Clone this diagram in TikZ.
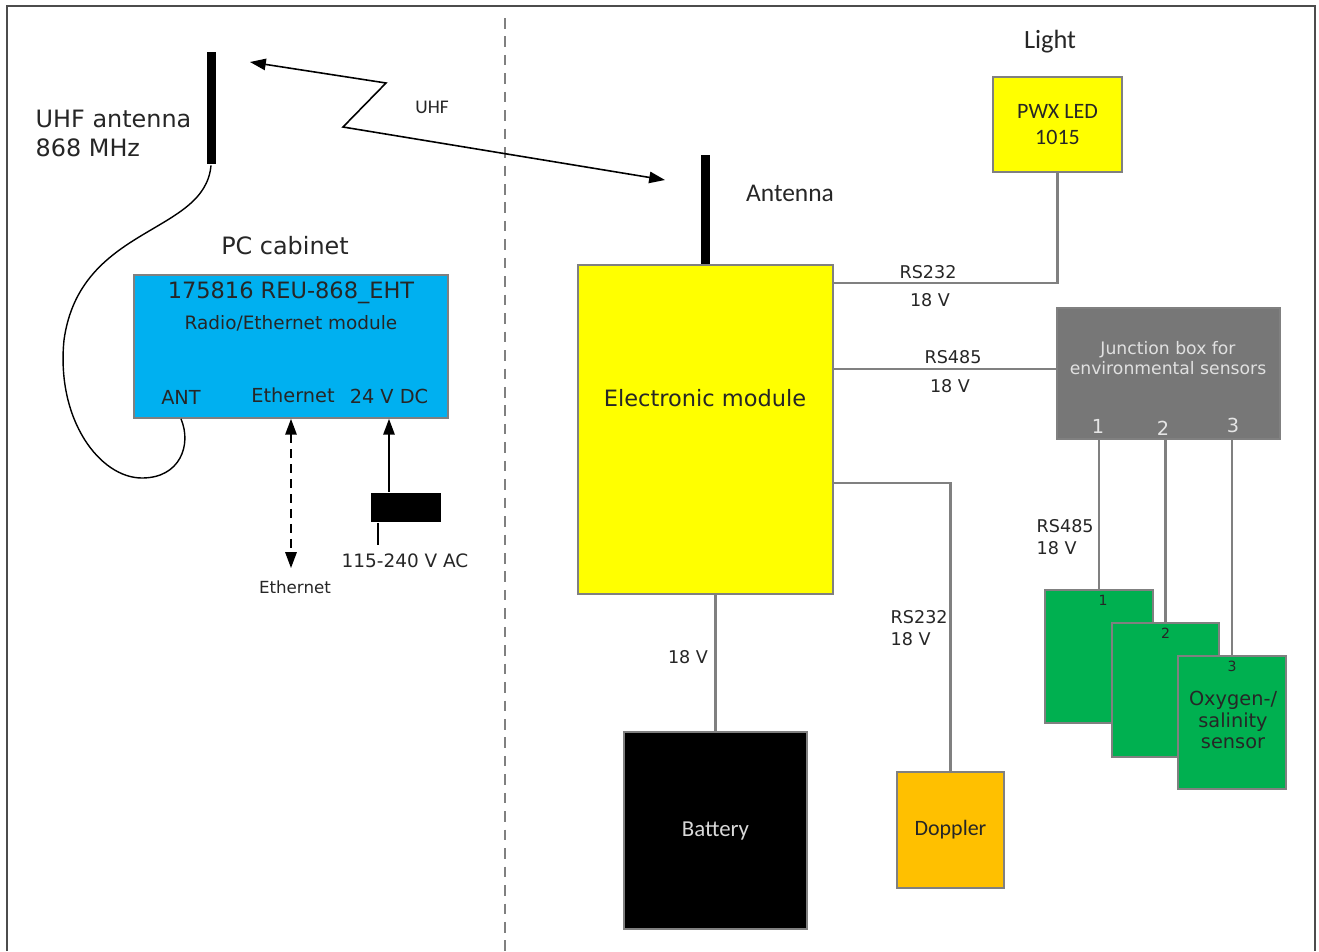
\documentclass[tikz,border=0pt]{standalone}
\usepackage{fontspec}
\setmainfont{DejaVu Sans}
\newfontfamily\calfont{Carlito}
\usetikzlibrary{arrows.meta, positioning}
\definecolor{cblue}{HTML}{00B0F0}
\definecolor{cyellow}{HTML}{FFFF00}
\definecolor{cgold}{HTML}{FFC000}
\definecolor{cgreen}{HTML}{00B050}
\definecolor{cjunc}{HTML}{777777}
\definecolor{cgrey}{HTML}{808080}
\definecolor{ctext}{HTML}{262626}
\tikzset{
  every picture/.style={line width=1pt, text=ctext},
  box/.style={draw=cgrey, fill=#1, line width=1pt, inner sep=0pt, align=center},
  box/.default=white,
  mast/.style={fill=black, minimum width=0.18cm, minimum height=2.26cm, inner sep=0pt},
  wire/.style={draw=cgrey, line width=1.2pt},
  cable/.style={draw=black, line width=0.8pt},
  arrow/.style={-{Triangle[length=9pt, width=6.5pt]}, draw=black, line width=0.9pt},
  frame/.style={draw=black!70, line width=1pt},
  divider/.style={draw=cgrey, line width=1.2pt, dash pattern=on 6pt off 4.5pt},
  bigtext/.style={font=\fontsize{13.6}{16.5}\selectfont, align=left},
  midtext/.style={font=\fontsize{12.8}{15}\selectfont},
  labtext/.style={font=\fontsize{11}{13}\selectfont},
  smalltext/.style={font=\fontsize{10}{12.2}\selectfont, align=left},
  caltext/.style={font=\calfont\fontsize{#1}{15.3}\selectfont, align=center},
  caltext/.default=13,
  numtext/.style={font=\fontsize{8}{9}\selectfont, inner sep=3pt},
}

\begin{document}
\begin{tikzpicture}[x=0.02cm, y=-0.02cm]
  \useasboundingbox (0,0) rectangle (1319,951);
  \draw[frame] (7,951) -- (7,6) -- (1315,6) -- (1315,951);
  \draw[divider] (505,18) -- (505,951);

  % left side: PC cabinet
  \node[mast] (uhfant) at (211,108) {};
  \node[bigtext, anchor=west] (uhflbl) at (29,133) {UHF antenna\\868 MHz};
  \node[bigtext] (cablbl) at (285,246) {PC cabinet};
  \node[box=cblue, minimum width=6.28cm, minimum height=2.86cm] (pc) at (291,346.5) {};
  \node[midtext] (pcname) at (291,293) {175816 REU-868\_EHT};
  \node[smalltext, font=\fontsize{10.5}{12}\selectfont] (pctype) at (291,323) {Radio/Ethernet module};
  \node[labtext] (antport) at (181,397) {ANT};
  \node[labtext] (ethport) at (293,395) {Ethernet};
  \node[labtext] (dcport) at (389,396) {24 V DC};
  \draw[cable] (uhfant.south) .. controls (205,235) and (80,225) .. (64,340)
    .. controls (56,420) and (100,478) .. (142,478)
    .. controls (180,478) and (192,445) .. (antport |- pc.south);
  % ethernet and power
  \coordinate (ethend) at (291,568);
  \node[smalltext, font=\fontsize{9.5}{11}\selectfont] (ethlbl) at (295,587) {Ethernet};
  \draw[arrow, {Triangle[length=9pt, width=6.5pt]}-{Triangle[length=9pt, width=6.5pt]}, dash pattern=on 5pt off 3.5pt] (pc.south) -- (ethend);
  \node[fill=black, minimum width=1.4cm, minimum height=0.58cm, inner sep=0pt] (plug) at (406,507.5) {};
  \draw[arrow] (plug.north -| dcport) -- (dcport |- pc.south);
  \coordinate (plugend) at (378,545);
  \draw[cable, line width=1.2pt] (plug.south -| plugend) -- (plugend);
  \node[labtext, font=\fontsize{10.5}{12}\selectfont] (aclbl) at (405,561) {115-240 V AC};

  % radio link
  \coordinate (uhfa) at (250,62);
  \coordinate (uhfb) at (386,83);
  \coordinate (uhfc) at (343,127);
  \coordinate (uhfd) at (665,180);
  \draw[arrow, {Triangle[length=9pt, width=6.5pt]}-{Triangle[length=9pt, width=6.5pt]}, line join=miter] (uhfa) -- (uhfb) -- (uhfc) -- (uhfd);
  \node[caltext=11] (uhflink) at (432,107) {UHF};

  % right side: buoy
  \node[mast] (buoyant) at (705.5,211.5) {};
  \node[caltext=14.5] (antlbl) at (790,193) {Antenna};
  \node[box=cyellow, minimum width=5.1cm, minimum height=6.58cm] (emod) at (705.5,429.5) {};
  \node[midtext] (emodlbl) at (705,398) {Electronic module};

  \node[caltext=15] (lightlbl) at (1050,42) {Light};
  \node[box=cyellow, minimum width=2.58cm, minimum height=1.9cm, caltext=12.5] (led) at (1057.5,124.5) {PWX LED\\1015};
  \draw[wire] (led.south) |- ([yshift=-0.38cm]emod.north east);
  \node[smalltext] (ledbus) at (928,272) {RS232};
  \node[smalltext] (ledvolt) at (930,300) {18 V};

  \node[box=cjunc, minimum width=4.46cm, minimum height=2.62cm] (jbox) at (1168.5,373.5) {};
  \node[font=\fontsize{9.8}{11.5}\selectfont, text=white!88!black, align=center] (jlbl) at (1168,358) {Junction box for\\environmental sensors};
  \node[labtext, text=white!90!black] (j1) at (1098,426) {1};
  \node[labtext, text=white!90!black] (j2) at (1163,428) {2};
  \node[labtext, text=white!90!black] (j3) at (1233,425) {3};
  \coordinate (jin) at ([yshift=0.09cm]jbox.west);
  \draw[wire] (jin) -- (jin -| emod.east);
  \node[smalltext] (jbus) at (953,357) {RS485};
  \node[smalltext] (jvolt) at (950,386) {18 V};

  % doppler and battery
  \node[box=cgold, minimum width=2.14cm, minimum height=2.32cm, caltext=12.5] (dop) at (950.5,830) {Doppler};
  \coordinate (dopout) at ([yshift=-1.07cm]emod.east);
  \draw[wire] (dopout) -| (dop.north);
  \node[smalltext, anchor=west] (dopbus) at (884,628) {RS232\\18 V};

  \node[box=black, minimum width=3.66cm, minimum height=3.94cm, caltext=13, text=white!85!black] (bat) at (715.5,830.5) {Battery};
  \draw[wire] (bat.north) -- (bat.north |- emod.south);
  \node[smalltext] (batvolt) at (688,657) {18 V};

  % sensors
  \node[box=cgreen, minimum width=2.16cm, minimum height=2.66cm, label={[numtext, anchor=north, xshift=0.08cm]north:1}] (s1) at (1099,656.5) {};
  \node[box=cgreen, minimum width=2.14cm, minimum height=2.68cm, label={[numtext, anchor=north]north:2}] (s2) at (1165.5,690) {};
  \node[box=cgreen, minimum width=2.16cm, minimum height=2.66cm, label={[numtext, anchor=north]north:3}] (s3) at (1232,722.5) {};
  \node[font=\fontsize{11}{12.2}\selectfont, align=center] (s3lbl) at (1233,720) {Oxygen-/\\salinity\\sensor};
  \draw[wire] (s1.north |- jbox.south) -- (s1.north);
  \draw[wire] (s2.north |- jbox.south) -- (s2.north);
  \draw[wire] (s3.north |- jbox.south) -- (s3.north);
  \node[smalltext, anchor=west] (sbus) at (1030,537) {RS485\\18 V};
\end{tikzpicture}
\end{document}
